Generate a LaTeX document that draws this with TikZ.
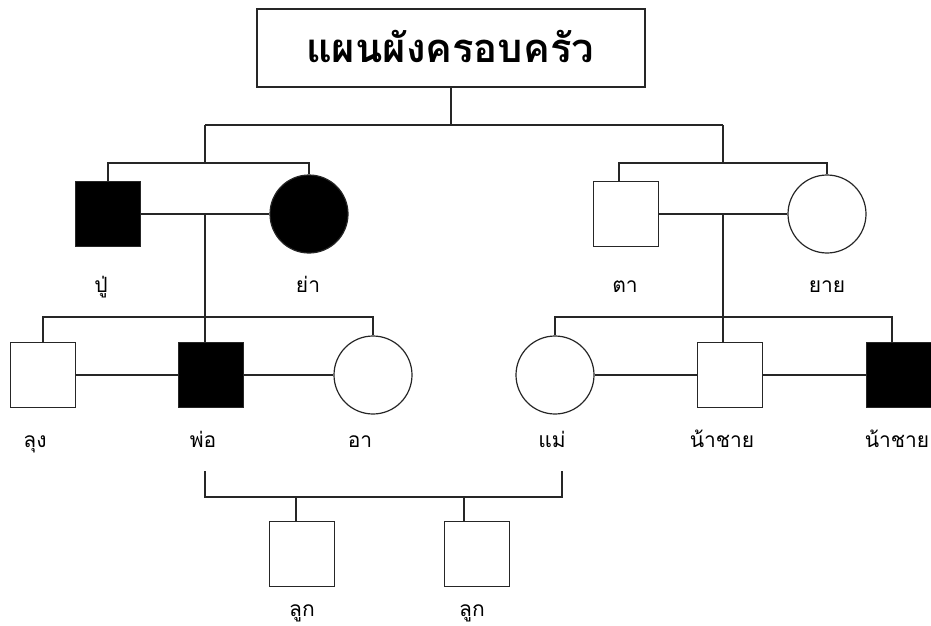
\documentclass[tikz,border=0pt]{standalone}
\usepackage{fontspec}
\newfontfamily\thaifont[Script=Thai]{Loma}
\begin{document}
\begin{tikzpicture}[x=1pt,y=-1pt,
  person/.style={draw=black!85, line width=1.2pt, inner sep=0pt},
  male/.style={person, rectangle, minimum width=65pt, minimum height=65pt},
  female/.style={person, circle, minimum size=78pt},
  aff/.style={fill=black},
  lbl/.style={font=\thaifont\fontsize{21}{24}\selectfont, anchor=base, inner sep=0pt},
  conn/.style={line width=1.2pt, draw=black!85}
]
\useasboundingbox (0,0) rectangle (931,626);
% title
\node[person, rectangle, minimum width=388pt, minimum height=78pt, fill=white] (title) at (451,48) {};
\node[font=\thaifont\bfseries\fontsize{40}{44}\selectfont, anchor=base, inner sep=0pt] (ttext) at (450,63) {แผนผังครอบครัว};
% people
\node[male, aff] (pu) at (108,214) {};
\node[female, aff] (ya) at (309,214) {};
\node[male] (ta) at (626,214) {};
\node[female] (yai) at (827,214) {};
\node[male] (lung) at (43,375) {};
\node[male, aff] (pho) at (211,375) {};
\node[female] (a) at (373,375) {};
\node[female] (mae) at (555,375) {};
\node[male] (na1) at (730,375) {};
\node[male, aff] (na2) at (899,375) {};
\node[male] (luk1) at (302,554) {};
\node[male] (luk2) at (477,554) {};
% labels
\node[lbl] (lpu) at (101,292) {ปู่};
\node[lbl] (lya) at (308,292) {ย่า};
\node[lbl] (lta) at (625,292) {ตา};
\node[lbl] (lyai) at (827,292) {ยาย};
\node[lbl] (llung) at (35,447) {ลุง};
\node[lbl] (lpho) at (203,447) {พ่อ};
\node[lbl] (la) at (360,447) {อา};
\node[lbl] (lmae) at (552,447) {แม่};
\node[lbl] (lna1) at (722,447) {น้าชาย};
\node[lbl] (lna2) at (897,447) {น้าชาย};
\node[lbl] (lluk1) at (302,616) {ลูก};
\node[lbl] (lluk2) at (472,616) {ลูก};
% junction coordinates
\coordinate (top) at (451,125);
\coordinate (pj) at (205,125);
\coordinate (mj) at (723,125);
\coordinate (pg) at (205,163);
\coordinate (mg) at (723,163);
\coordinate (pm) at (205,214);
\coordinate (mm) at (723,214);
\coordinate (pc) at (205,317);
\coordinate (mc) at (723,317);
\coordinate (cl) at (205,471);
\coordinate (cr) at (562,471);
\coordinate (cb) at (205,497);
% connectors
\draw[conn] (title.south) -- (top);
\draw[conn] (pj) -- (mj);
\draw[conn] (pj) -- (pg);
\draw[conn] (mj) -- (mg);
\draw[conn] (pu.north) -- (pu.north |- pg) -- (ya.north |- pg) -- (ya.north);
\draw[conn] ([xshift=-7pt]ta.north) -- ([xshift=-7pt]ta.north |- mg) -- (yai.north |- mg) -- (yai.north);
\draw[conn] (pu) -- (ya);
\draw[conn] (ta) -- (yai);
\draw[conn] (pm) -- (pc) -- (pc |- pho.north);
\draw[conn] (mm) -- (mc) -- (mc |- na1.north);
\draw[conn] (lung.north) -- (lung.north |- pc) -- (a.north |- pc) -- (a.north);
\draw[conn] (mae.north) -- (mae.north |- mc) -- ([xshift=-7pt]na2.north |- mc) -- ([xshift=-7pt]na2.north);
\draw[conn] (lung) -- (pho);
\draw[conn] (pho) -- (a);
\draw[conn] (mae) -- (na1);
\draw[conn] (na1) -- (na2);
\draw[conn] (cl) -- (cb) -- (cr |- cb) -- (cr);
\draw[conn] ([xshift=-6pt]luk1.north) -- ([xshift=-6pt]luk1.north |- cb);
\draw[conn] ([xshift=-13pt]luk2.north) -- ([xshift=-13pt]luk2.north |- cb);
\end{tikzpicture}
\end{document}
